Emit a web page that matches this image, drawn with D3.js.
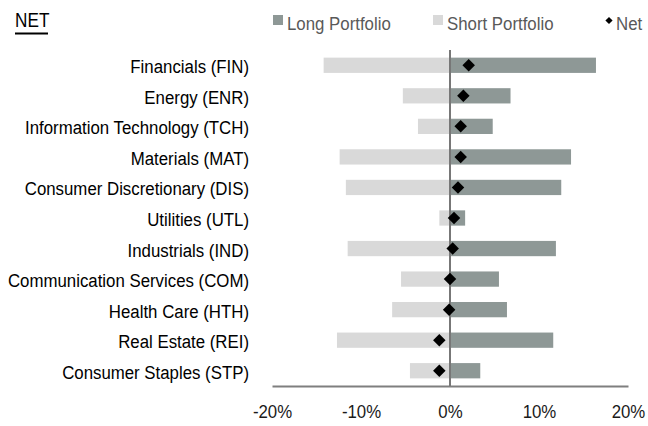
<!DOCTYPE html>
<html>
<head>
<meta charset="utf-8">
<script src="https://cdn.jsdelivr.net/npm/d3@7"></script>
<style>
  body { margin: 0; background: #fff; }
  text { font-family: "Liberation Sans", Arial, sans-serif; }
</style>
</head>
<body>
<div id="chart"></div>
<script>
// sectors, top to bottom
var categories = ["Financials (FIN)", "Energy (ENR)", "Information Technology (TCH)", "Materials (MAT)",
  "Consumer Discretionary (DIS)", "Utilities (UTL)", "Industrials (IND)", "Communication Services (COM)",
  "Health Care (HTH)", "Real Estate (REI)", "Consumer Staples (STP)"];

// percent of portfolio
var longVals  = [16.4, 6.8, 4.8, 13.6, 12.5, 1.7, 11.9, 5.5, 6.4, 11.6, 3.4];
var shortVals = [-14.2, -5.3, -3.6, -12.4, -11.7, -1.2, -11.5, -5.5, -6.5, -12.7, -4.5];
var netVals   = [2.1, 1.5, 1.2, 1.2, 0.9, 0.45, 0.3, 0.0, -0.1, -1.2, -1.2];

var xTicks = [-20, -10, 0, 10, 20];
var seriesNames = ["Long Portfolio", "Short Portfolio", "Net"];

var W = 648, H = 426;
var sx = 0.885; // narrow font look

var svg = d3.select("#chart").append("svg")
  .attr("width", W)
  .attr("height", H);

var x = d3.scaleLinear()
  .domain([-20, 20])
  .range([272, 628]);

var y = d3.scaleBand()
  .domain(categories)
  .range([50, 386])
  .paddingInner(0.5)
  .paddingOuter(0.25);

var rows = categories.map(function(c, i) {
  return {cat: c, long: longVals[i], short: shortVals[i], net: netVals[i]};
});

// short bars
svg.append("g").selectAll("rect")
  .data(rows)
  .enter().append("rect")
    .attr("x", function(d) { return x(d.short); })
    .attr("y", function(d) { return y(d.cat); })
    .attr("width", function(d) { return x(0) - x(d.short); })
    .attr("height", y.bandwidth())
    .attr("fill", "#d9d9d9");

// long bars
svg.append("g").selectAll("rect")
  .data(rows)
  .enter().append("rect")
    .attr("x", x(0))
    .attr("y", function(d) { return y(d.cat); })
    .attr("width", function(d) { return x(d.long) - x(0); })
    .attr("height", y.bandwidth())
    .attr("fill", "#8e9896");

// x axis
var xAxis = svg.append("g")
  .attr("transform", "translate(0,386)")
  .call(d3.axisBottom(x).tickValues(xTicks).tickSize(0).tickSizeOuter(0)
    .tickFormat(function(d) { return d + "%"; }));
xAxis.select(".domain").attr("stroke", "#7f7f7f").attr("stroke-width", 2);
xAxis.selectAll("text")
  .attr("y", 32)
  .attr("dy", 0)
  .attr("fill", "#1a1a1a")
  .style("font-size", "19px")
  .attr("transform", "scale(" + sx + ",1)");

// zero line
svg.append("line")
  .attr("x1", x(0)).attr("x2", x(0))
  .attr("y1", 50).attr("y2", 386)
  .attr("stroke", "#777")
  .attr("stroke-width", 2);

// y axis labels
var yAxis = svg.append("g")
  .attr("transform", "translate(249,0)")
  .call(d3.axisLeft(y).tickSize(0).tickPadding(0));
yAxis.select(".domain").remove();
yAxis.selectAll("text")
  .attr("x", 0)
  .attr("dy", 0)
  .attr("y", 8)
  .attr("fill", "#000")
  .style("font-size", "19px")
  .attr("transform", "scale(" + sx + ",1)");

// net diamonds
var diamond = d3.symbol().type(d3.symbolSquare).size(78);
svg.append("g").selectAll("path")
  .data(rows)
  .enter().append("path")
    .attr("d", diamond)
    .attr("transform", function(d) {
      return "translate(" + x(d.net) + "," + (y(d.cat) + y.bandwidth() / 2) + ") rotate(45)";
    })
    .attr("fill", "#000");

// title
svg.append("text")
  .attr("transform", "translate(15,27) scale(0.86,1)")
  .style("font-size", "20px")
  .attr("fill", "#000")
  .text("NET");
svg.append("line")
  .attr("x1", 15).attr("x2", 48)
  .attr("y1", 33.5).attr("y2", 33.5)
  .attr("stroke", "#000")
  .attr("stroke-width", 2);

// legend
var legend = svg.append("g");
var legX = [273, 433, 609];

legend.append("rect")
  .attr("x", legX[0]).attr("y", 15)
  .attr("width", 10).attr("height", 10)
  .attr("fill", "#8e9896");
legend.append("rect")
  .attr("x", legX[1]).attr("y", 15)
  .attr("width", 10).attr("height", 10)
  .attr("fill", "#d9d9d9");
legend.append("path")
  .attr("d", d3.symbol().type(d3.symbolSquare).size(26))
  .attr("transform", "translate(" + legX[2] + ",20.5) rotate(45)")
  .attr("fill", "#000");

legend.selectAll("text")
  .data(seriesNames)
  .enter().append("text")
    .attr("transform", function(d, i) {
      var tx = i == 2 ? legX[i] + 7 : legX[i] + 14;
      return "translate(" + tx + ",30) scale(" + sx + ",1)";
    })
    .style("font-size", "19px")
    .attr("fill", "#595959")
    .text(function(d) { return d; });
</script>
</body>
</html>
